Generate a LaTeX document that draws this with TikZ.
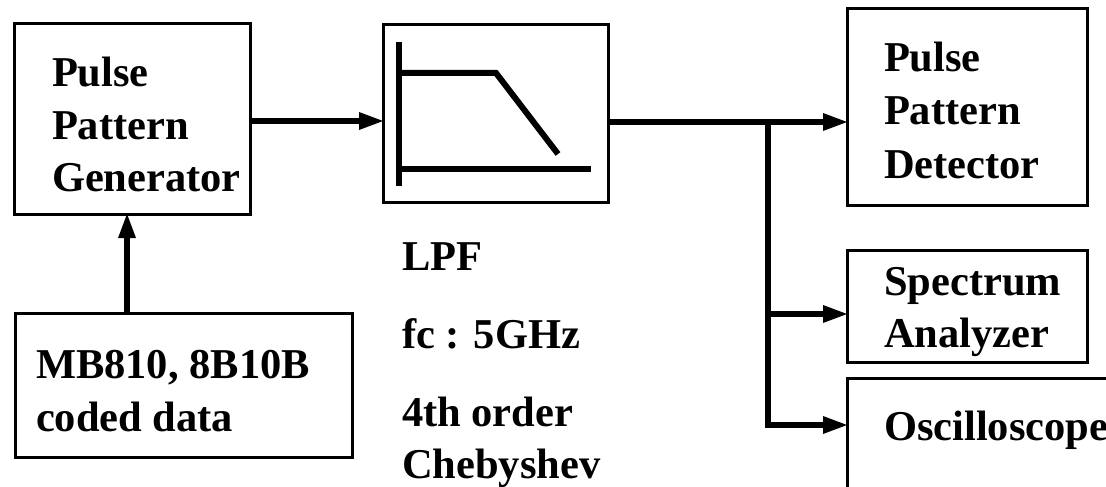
\documentclass[tikz,border=0pt]{standalone}
\usepackage{fontspec}
\setmainfont{Liberation Serif}
\usetikzlibrary{arrows.meta}
\tikzset{
  blockbox/.style={draw=black,line width=3pt,fill=white,inner sep=0pt,outer sep=0pt,anchor=north west},
  wire/.style={line width=5.5pt,draw=black},
  arrowwire/.style={wire,-{Triangle[length=24pt,width=18pt,line width=0pt]},shorten >=0pt},
  curve/.style={line width=6pt,draw=black},
  lbl/.style={font=\fontsize{42.5}{42.5}\selectfont\bfseries,anchor=base west,inner sep=0pt,outer sep=0pt}
}
\begin{document}
\begin{tikzpicture}[x=1pt,y=-1pt]
\useasboundingbox (0,0) rectangle (1106,487);
\clip (0,0) rectangle (1106,487);
\node[blockbox,minimum width=236pt,minimum height=190pt] (ppg) at (14,24) {};
\node[blockbox,minimum width=225pt,minimum height=177pt] (lpf) at (383,25) {};
\node[blockbox,minimum width=240pt,minimum height=196pt] (ppd) at (847,9) {};
\node[blockbox,minimum width=240pt,minimum height=112pt] (sa) at (847,250) {};
\node[blockbox,minimum width=300pt,minimum height=160pt] (osc) at (847,378) {};
\node[blockbox,minimum width=337pt,minimum height=144pt] (mb) at (15,313) {};
\node[lbl] (t1) at (52,87) {Pulse};
\node[lbl] (t2) at (52,139) {Pattern};
\node[lbl] (t3) at (52,191) {Generator};
\node[lbl] (t4) at (884,72) {Pulse};
\node[lbl] (t5) at (884,124) {Pattern};
\node[lbl] (t6) at (884,178) {Detector};
\node[lbl] (t7) at (884,295) {Spectrum};
\node[lbl] (t8) at (884,347) {Analyzer};
\node[lbl] (t9) at (884,440) {Oscilloscope};
\node[lbl] (t10) at (36,378) {MB810, 8B10B};
\node[lbl] (t11) at (36,431) {coded data};
\node[lbl] (t12) at (402,270) {LPF};
\node[lbl] (t13) at (402,348) {fc : 5GHz};
\node[lbl] (t14) at (402,426) {4th order};
\node[lbl] (t15) at (402,478) {Chebyshev};
% filter sketch
\coordinate (f1) at (399,42);
\coordinate (f2) at (399,186);
\coordinate (f3) at (399,73);
\coordinate (f4) at (496,73);
\coordinate (f5) at (558,154);
\coordinate (f6) at (399,169);
\coordinate (f7) at (591,169);
\draw[curve] (f1) -- (f2);
\draw[curve,line join=miter] (f3) -- (f4) -- (f5);
\draw[curve] (f6) -- (f7);
% connectors
\coordinate (r1) at (300,121);
\coordinate (r2) at (700,122);
\coordinate (j1) at (768,122);
\coordinate (j2) at (768,314);
\coordinate (j3) at (768,425);
\coordinate (c1) at (127,250);
\draw[arrowwire] (ppg.east |- r1) -- (lpf.west |- r1);
\draw[arrowwire] (lpf.east |- r2) -- (ppd.west |- r2);
\draw[wire,line cap=rect] (j1) -- (j3);
\draw[arrowwire] (j2) -- (sa.west |- j2);
\draw[arrowwire] (j3) -- (osc.west |- j3);
\draw[arrowwire] (mb.north -| c1) -- (ppg.south -| c1);
\end{tikzpicture}
\end{document}
